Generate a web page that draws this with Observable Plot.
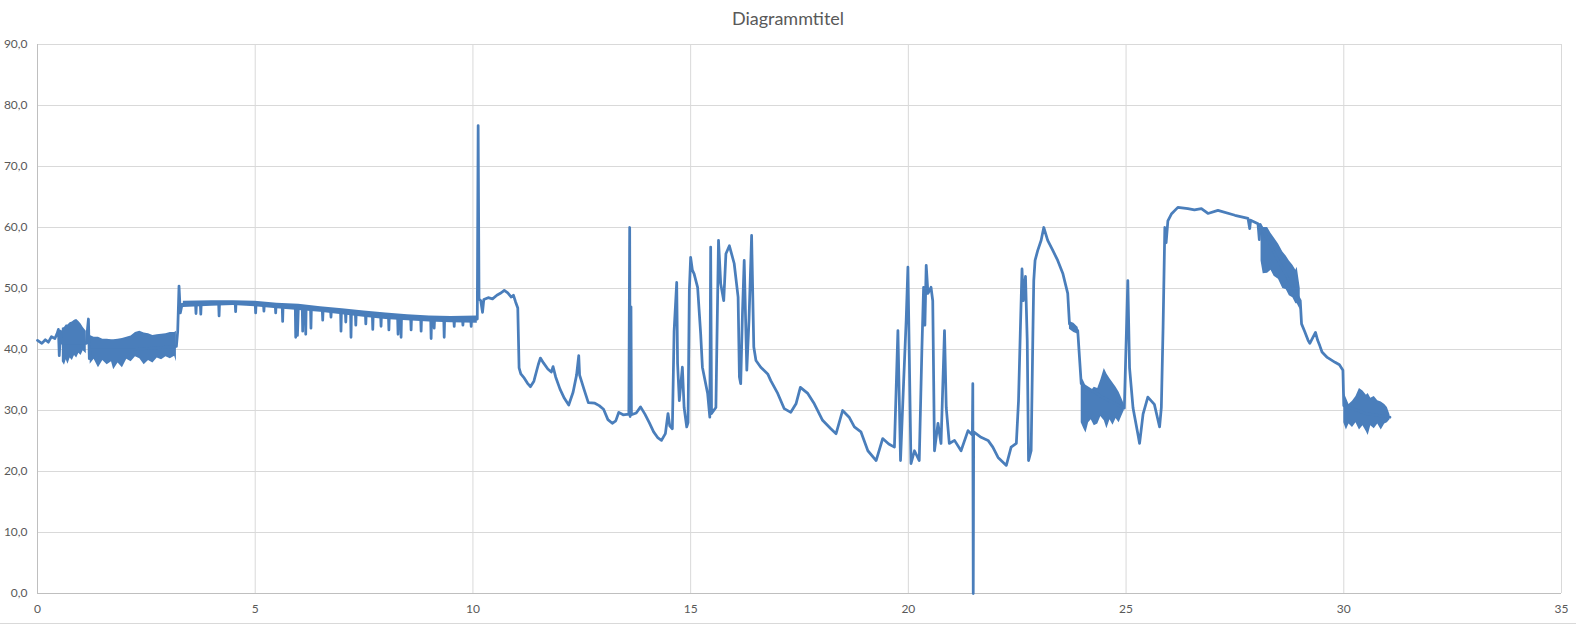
<!DOCTYPE html>
<html><head><meta charset="utf-8">
<script src="https://cdn.jsdelivr.net/npm/d3@7"></script>
<script src="https://cdn.jsdelivr.net/npm/@observablehq/plot@0.6"></script>
<style>
body{margin:0;background:#fff;}
#chart{width:1576px;height:623px;border-bottom:1px solid #d9d9d9;overflow:hidden;background:#fff}
#title{height:36px;line-height:36px;text-align:center;font-family:Lato,"Open Sans",sans-serif;font-size:18px;color:#595959}
svg{display:block}
</style></head><body><div id="chart"><div id="title">Diagrammtitel</div></div>
<script>
const xTicks = [0,5,10,15,20,25,30,35];
const yTicks = [0,10,20,30,40,50,60,70,80,90];

// main trace (x, y)
const lineX = [
0.00,0.10,0.18,0.25,0.32,0.40,0.45,0.48,0.50,0.53,0.57,0.85,1.12,1.15,1.17,1.19,1.21,2.20,3.19,3.22,3.25,3.28,3.32,
3.40,3.63,3.64,3.65,3.74,3.75,3.76,4.00,4.16,4.17,4.18,4.54,4.55,4.56,5.00,5.01,5.02,5.19,5.20,5.21,5.46,5.47,5.48,
5.62,5.63,5.64,5.92,5.93,5.95,5.97,5.99,6.08,6.09,6.10,6.15,6.16,6.17,6.27,6.28,6.29,6.54,6.55,6.56,6.73,6.74,6.75,
6.96,6.97,6.98,7.07,7.08,7.09,7.19,7.20,7.21,7.30,7.31,7.32,7.53,7.54,7.55,7.69,7.70,7.71,7.88,7.89,7.90,
8.06,8.07,8.08,8.27,8.28,8.29,8.34,8.35,8.36,8.57,8.58,8.59,8.80,8.81,8.82,9.03,9.04,9.05,9.10,9.11,9.12,
9.33,9.34,9.35,9.56,9.57,9.58,9.76,9.77,9.78,9.95,9.96,9.97,10.10,
10.12,10.14,10.18,10.22,10.25,10.35,10.45,10.55,10.65,10.72,10.80,10.88,10.93,10.98,11.03,11.06,11.10,11.18,11.25,
11.32,11.40,11.50,11.55,11.62,11.72,11.80,11.84,11.90,12.00,12.10,12.20,12.30,12.38,12.43,12.45,12.55,12.65,12.80,
12.90,13.00,13.10,13.20,13.28,13.35,13.45,13.58,13.60,13.61,13.63,13.64,13.75,13.85,13.95,14.05,14.15,14.25,14.33,
14.42,14.48,14.52,14.58,14.62,14.68,14.70,14.74,14.81,14.85,14.91,14.94,14.97,15.00,15.04,15.08,15.16,15.23,15.27,
15.39,15.44,15.46,15.48,15.58,15.64,15.69,15.76,15.81,15.89,16.00,16.09,16.12,16.15,16.19,16.23,16.29,16.34,16.40,
16.45,16.50,16.61,16.77,16.84,17.00,17.15,17.30,17.42,17.52,17.69,17.84,18.03,18.22,18.34,18.49,18.64,18.76,18.91,
19.07,19.26,19.41,19.55,19.68,19.76,19.82,19.89,19.95,19.99,20.02,20.06,20.14,20.25,20.31,20.35,20.38,20.41,20.45,
20.52,20.56,20.60,20.68,20.75,20.83,20.87,20.94,21.06,21.21,21.37,21.47,21.48,21.49,21.50,21.67,21.83,21.94,22.06,
22.25,22.36,22.48,22.53,22.57,22.61,22.64,22.69,22.73,22.76,22.82,22.86,22.88,22.91,22.97,23.05,23.11,23.20,23.32,
23.43,23.55,23.66,23.70,23.78,23.89,23.93,23.97,24.50,24.96,25.04,25.08,25.16,25.27,25.31,25.39,25.50,25.65,25.77,
25.81,25.85,25.89,25.92,25.96,26.04,26.19,26.42,26.57,26.73,26.88,27.11,27.50,27.80,27.84,27.86,28.03,28.06,28.08,
28.50,29.00,29.03,29.10,29.18,29.22,29.35,29.40,29.45,29.50,29.62,29.80,29.90,29.98,30.00,30.50,31.06
];
const lineY = [
41.5,41.0,41.6,41.2,42.1,41.8,42.6,43.3,39.0,43.0,41.0,41.0,41.0,43.5,45.0,38.5,40.0,40.0,40.5,43.0,50.4,46.0,47.4,
47.5,47.4,45.9,47.4,47.5,45.8,47.5,47.6,47.6,45.5,47.6,47.7,46.2,47.7,47.5,46.0,47.5,47.4,46.3,47.4,47.3,46.0,47.3,
47.2,44.6,47.2,47.0,42.0,46.5,42.3,46.8,47.0,43.0,46.8,46.9,42.5,46.9,46.8,43.5,46.8,46.6,44.8,46.6,46.5,45.3,46.5,
46.3,43.0,46.3,46.2,44.5,46.2,46.1,42.0,46.1,46.0,44.0,46.0,45.9,44.2,45.9,45.8,43.3,45.8,45.7,43.8,45.7,
45.5,43.2,45.5,45.4,42.5,45.4,45.4,42.0,45.4,45.3,43.2,45.3,45.2,43.0,45.2,45.1,41.8,45.1,45.1,43.5,45.1,
45.0,42.0,45.0,45.0,43.8,45.0,45.0,44.0,45.0,45.0,43.8,45.0,45.0,
76.7,48.3,48.0,46.1,48.2,48.5,48.3,48.9,49.3,49.7,49.3,48.6,48.9,47.8,46.8,37.0,36.0,35.3,34.5,
33.9,34.8,37.5,38.6,37.8,36.8,36.3,37.2,35.5,33.5,32.0,30.9,33.0,35.8,39.0,35.8,33.5,31.3,31.2,
30.8,30.2,28.5,27.9,28.3,29.7,29.3,29.4,60.0,29.0,47.0,29.3,29.6,30.6,29.4,28.0,26.5,25.5,25.1,
26.2,29.5,27.5,27.0,43.0,51.0,37.7,31.6,37.1,30.5,27.3,28.0,49.7,55.1,53.0,52.4,50.2,42.6,37.1,
32.8,28.9,56.8,29.5,30.5,57.9,50.8,48.0,55.7,57.0,54.1,48.6,35.5,34.4,45.9,54.6,36.6,44.8,58.7,
40.4,38.2,37.1,36.0,34.9,32.8,30.3,29.7,31.1,33.8,32.8,31.1,28.4,27.0,26.2,30.0,28.9,27.3,26.5,
23.4,21.8,25.4,24.5,24.0,43.1,21.8,34.4,44.8,53.5,39.8,21.3,23.4,21.8,39.8,50.2,44.0,53.8,49.2,
50.2,48.0,23.4,27.9,24.6,43.1,30.5,24.6,25.1,23.4,26.7,26.0,34.4,0.0,26.5,25.6,25.1,24.0,22.3,
21.0,24.0,24.6,31.6,42.6,53.2,48.0,52.0,41.5,21.8,23.4,42.6,51.3,54.6,56.2,57.9,60.0,57.9,56.2,
54.6,52.4,49.2,44.2,44.0,43.1,38.7,34.4,32.0,30.4,51.3,37.0,30.4,26.2,24.6,29.4,32.2,31.0,27.3,
30.5,43.7,60.0,57.5,61.1,62.2,63.3,63.1,62.9,63.1,62.3,62.8,62.0,61.5,59.8,61.2,60.6,58.0,60.5,
54.5,48.0,44.2,43.0,41.5,41.0,42.8,41.5,40.6,39.6,38.7,37.9,37.5,36.6,30.8,29.5,28.9
];

// dense noisy stretches: envelope (low / high)
const bandSeg = [
1,1,1,1,1,1,1,1,1,1,1,1,
2,2,2,2,2,2,2,2,2,2,2,2,2,2,2,2,2,2,2,2,2,2,
3,3,3,3,3,3,3,3,3,3,3,3,3,3,
7,7,7,
4,4,4,4,4,4,4,4,4,4,4,4,4,4,4,4,
5,5,5,5,5,5,5,5,5,5,5,5,5,
6,6,6,6,6,6,6,6,6,6,6,6,6,6,6,6
];
const bandX = [
0.57,0.62,0.66,0.70,0.75,0.80,0.85,0.90,0.95,1.00,1.05,1.12,
1.21,1.30,1.40,1.50,1.60,1.70,1.75,1.85,1.95,2.05,2.15,2.25,2.35,2.45,2.55,2.65,2.75,2.85,2.95,3.05,3.15,3.19,
3.35,4.00,4.50,5.00,5.50,6.00,6.50,7.00,7.50,8.00,8.50,9.00,9.50,10.10,
23.70,23.80,23.90,
23.97,24.03,24.08,24.14,24.20,24.27,24.35,24.42,24.50,24.56,24.63,24.70,24.77,24.84,24.90,24.96,
28.10,28.15,28.25,28.33,28.40,28.50,28.60,28.68,28.75,28.83,28.90,28.93,29.00,
30.00,30.06,30.12,30.20,30.28,30.36,30.44,30.52,30.56,30.62,30.70,30.78,30.86,30.94,31.00,31.06
];
const bandLo = [
38.0,37.4,38.3,37.6,38.6,38.2,39.0,38.6,39.4,39.0,39.8,39.3,
37.6,38.4,37.0,38.2,37.5,38.0,36.7,37.8,37.0,38.4,38.0,38.8,38.5,37.5,38.2,37.8,38.6,38.3,38.8,38.5,38.9,38.0,
46.9,47.1,47.2,47.0,46.7,46.4,46.1,45.7,45.3,44.9,44.7,44.5,44.4,44.3,
43.3,42.8,42.5,
28.0,27.0,26.3,28.0,28.5,27.5,27.8,29.0,28.3,27.0,28.5,27.6,28.7,28.0,29.0,30.0,
54.5,52.4,52.5,53.0,52.0,51.5,50.0,49.8,48.8,48.5,47.5,47.5,46.5,
28.0,26.8,27.8,27.2,28.0,26.8,27.5,26.5,25.9,27.5,27.0,27.8,26.8,27.8,28.0,28.5
];
const bandHi = [
43.5,43.6,44.0,44.0,44.4,44.5,44.8,44.9,44.6,44.2,43.6,43.0,
42.3,42.0,42.0,41.7,41.7,41.6,41.6,41.7,41.8,42.0,42.2,42.8,43.0,42.7,42.6,42.3,42.4,42.5,42.6,42.8,42.8,43.0,
47.9,48.0,48.0,47.9,47.6,47.4,47.0,46.7,46.3,46.0,45.7,45.5,45.4,45.5,
44.6,44.3,43.6,
35.5,34.8,34.0,33.5,33.2,33.8,33.6,35.0,36.9,36.0,35.2,34.5,33.8,33.0,32.0,31.0,
60.5,60.0,60.0,59.0,58.3,57.3,56.0,55.3,54.5,53.8,53.0,53.5,50.0,
33.0,32.0,31.0,31.5,32.3,33.6,33.2,32.5,32.8,32.0,32.3,31.6,31.4,31.0,30.5,29.3
];

const line = lineX.map((x, i) => ({x, y: lineY[i]}));
const bands = bandX.map((x, i) => ({seg: bandSeg[i], x, lo: bandLo[i], hi: bandHi[i]}));
const blue = "#4a7ebb";

const plot = Plot.plot({
  width: 1576, height: 587,
  marginTop: 8, marginBottom: 30, marginLeft: 37, marginRight: 15,
  style: {fontFamily: "Lato, 'Open Sans', sans-serif", fontSize: "12px", color: "#595959", background: "#fff"},
  x: {domain: [0, 35], ticks: xTicks, tickSize: 0, tickPadding: 11, tickFormat: d => String(d), label: null},
  y: {domain: [0, 90], ticks: yTicks, tickSize: 0, tickPadding: 10, tickFormat: d => d.toFixed(1).replace(".", ","), label: null},
  marks: [
    Plot.gridX(xTicks, {stroke: "#d9d9d9", strokeOpacity: 1}),
    Plot.gridY(yTicks, {stroke: "#d9d9d9", strokeOpacity: 1}),
    Plot.ruleX([0], {stroke: "#bfbfbf"}),
    Plot.ruleY([0], {stroke: "#bfbfbf"}),
    Plot.areaY(bands, {x: "x", y1: "lo", y2: "hi", z: "seg", fill: blue}),
    Plot.line(line, {x: "x", y: "y", stroke: blue, strokeWidth: 2.75, strokeLinejoin: "round"})
  ]
});
document.getElementById("chart").appendChild(plot);
</script>
</body></html>
